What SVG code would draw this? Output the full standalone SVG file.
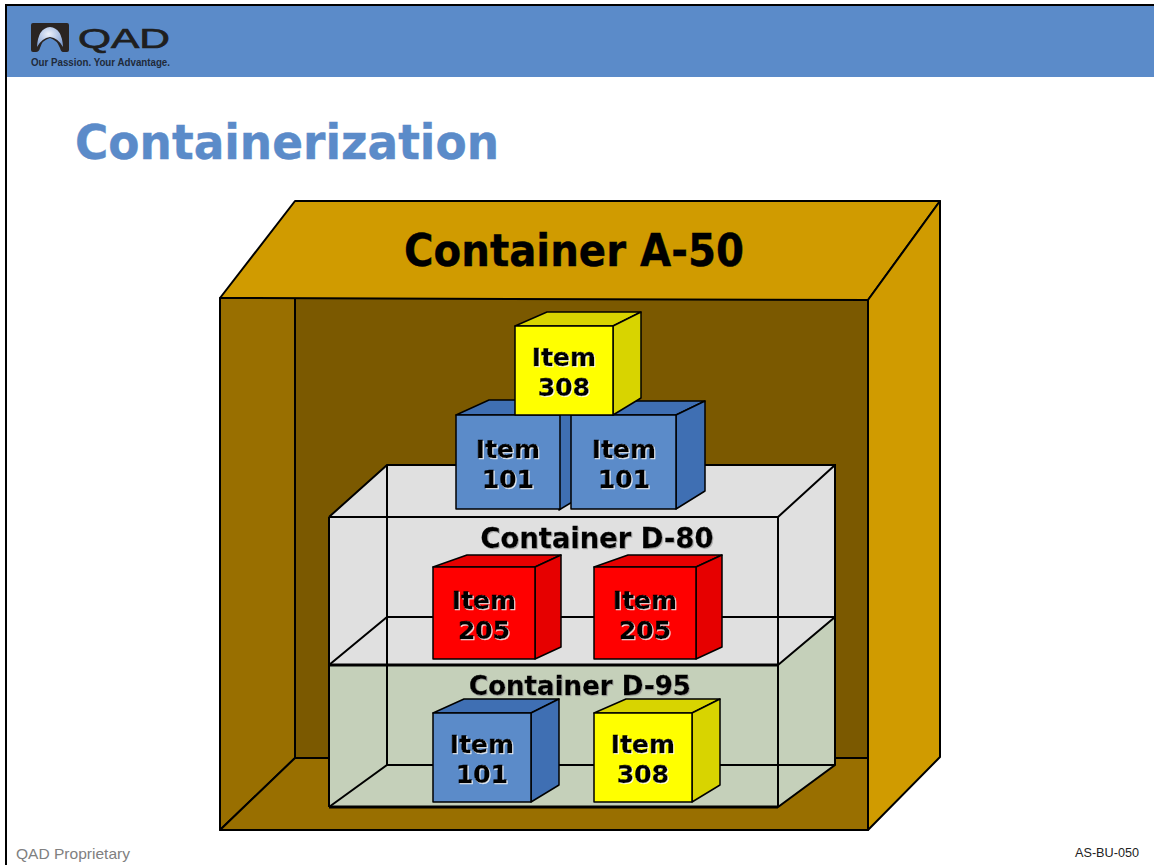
<svg xmlns="http://www.w3.org/2000/svg" width="1154" height="865" viewBox="0 0 1154 865">
<style>
text{font-family:"DejaVu Sans",Tahoma,sans-serif}
.o{stroke:#000;stroke-width:2;stroke-linejoin:round}
.c{stroke:#000;stroke-width:1.5;stroke-linejoin:round}
.l{stroke:#000;stroke-width:2;fill:none}
.i{font-weight:700;font-size:25px;text-anchor:middle;fill:#000;stroke:#000;stroke-width:.4;filter:url(#sh)}
.h{font-weight:700;text-anchor:middle;fill:#000;stroke:#000;stroke-width:.3;filter:url(#shg)}
.bf{fill:#5b8bc9}.bs{fill:#3f6fb3}
.yf{fill:#ffff00}.ys{fill:#d8d400}
.rf{fill:#ff0000}.rs{fill:#e60000}
.gold{fill:#d09b00}.mid{fill:#996f00}
</style>
<defs>
<filter id="sh" x="-10%" y="-10%" width="120%" height="120%">
<feDropShadow dx="1" dy="1" stdDeviation="0.3" flood-color="#fff" flood-opacity=".85"/>
</filter>
<filter id="shg" x="-5%" y="-10%" width="110%" height="120%">
<feDropShadow dx="1" dy="1" stdDeviation="0.3" flood-color="#999" flood-opacity=".7"/>
</filter>
<radialGradient id="glow" cx=".45" cy=".35" r=".7">
<stop offset="0" stop-color="#eef2fb"/><stop offset="1" stop-color="#7f9fd4"/>
</radialGradient>
</defs>
<rect width="1154" height="865" fill="#fff"/>
<rect x="7" y="6" width="1147" height="71" fill="#5b8bc9"/>
<path d="M6 865V5H1154" fill="none" stroke="#000" stroke-width="2"/>
<g id="logo">
<path d="M31 25Q31 23 33 23H67Q69 23 69 25V50Q69 52 67 52H63Q61 52 60 48Q57 40 50 38Q42 40 40 48Q39 52 36 52H33Q31 52 31 50Z" fill="#2a2422"/>
<path d="M37 47Q38 28 50 27Q62 28 63 47Q58 38 50 37Q42 38 37 47Z" fill="url(#glow)"/>
<text x="78" y="48" font-size="27" font-weight="400" stroke="#1f1f1f" stroke-width=".7" style="font-family:'Liberation Sans',sans-serif" fill="#1f1f1f" textLength="92" lengthAdjust="spacingAndGlyphs">QAD</text>
<text x="31" y="66" font-size="10.5" font-weight="700" style="font-family:'Liberation Sans',sans-serif" fill="#1f2a3a" textLength="139" lengthAdjust="spacingAndGlyphs">Our Passion. Your Advantage.</text>
</g>
<text id="title" x="75" y="159" font-size="48" font-weight="700" fill="#5b8bc9" stroke="#5b8bc9" stroke-width=".4" textLength="424" lengthAdjust="spacingAndGlyphs">Containerization</text>
<g id="container-a50">
<polygon points="295,298 868,298 868,758 295,758" fill="#7b5900"/>
<polygon points="220,298 295,298 295,758 220,830" class="o mid"/>
<polygon points="295,758 868,758 868,830 220,830" class="o mid"/>
<polygon points="220,298 295,201 940,201 868,300" class="o gold"/>
<polygon points="868,300 940,201 940,757 868,830" class="o gold"/>
<text x="574" y="266" font-size="44" font-weight="700" text-anchor="middle" stroke="#000" stroke-width=".4" textLength="340" lengthAdjust="spacingAndGlyphs">Container A-50</text>
</g>
<g id="container-d-frames">
<polygon points="329,517 387,465 835,465 835,617 778,665 329,665" fill="#e0e0e0"/>
<polygon points="329,665 778,665 835,617 835,765 778,807 329,807" fill="#c5d0ba"/>
<path class="l" d="M329 517L387 465H835V617L778 665M835 465L778 517M329 517H778V665M387 465V765M329 665L387 617H835M329 517V807M329 665H778V807M835 617V765L778 807H329M329 807L387 765H835"/>
<path d="M329 665H778M329 807H778" stroke="#000" stroke-width="3" fill="none"/>
</g>
<g id="item-101-left">
<polygon points="456,415 489,400 589,400 559,415" class="c bs"/>
<polygon points="559,415 589,400 589,492 559,510" class="c bs"/>
<rect x="456" y="415" width="104" height="94" class="c bf"/>
<text class="i" x="508" y="458">Item</text><text class="i" x="508" y="488">101</text>
</g>
<g id="item-101-right">
<polygon points="571,415 603,401 705,401 676,415" class="c bs"/>
<polygon points="676,415 705,401 705,491 676,509" class="c bs"/>
<rect x="571" y="415" width="105" height="94" class="c bf"/>
<text class="i" x="624" y="458">Item</text><text class="i" x="624" y="488">101</text>
</g>
<g id="item-308-top">
<polygon points="515,326 547,312 641,312 613,326" class="c ys"/>
<polygon points="613,326 641,312 641,398 613,415" class="c ys"/>
<rect x="515" y="326" width="98" height="89" class="c yf"/>
<text class="i" x="564" y="366">Item</text><text class="i" x="564" y="396">308</text>
</g>
<g id="item-205-left">
<polygon points="433,567 467,555 561,555 535,567" class="c rs"/>
<polygon points="535,567 561,555 561,647 535,659" class="c rs"/>
<rect x="433" y="567" width="102" height="92" class="c rf"/>
<text class="i" x="484" y="609">Item</text><text class="i" x="484" y="639">205</text>
</g>
<g id="item-205-right">
<polygon points="594,567 628,555 722,555 696,567" class="c rs"/>
<polygon points="696,567 722,555 722,647 696,659" class="c rs"/>
<rect x="594" y="567" width="102" height="92" class="c rf"/>
<text class="i" x="645" y="609">Item</text><text class="i" x="645" y="639">205</text>
</g>
<g id="item-101-lower">
<polygon points="433,713 464,699 559,699 531,713" class="c bs"/>
<polygon points="531,713 559,699 559,785 531,802" class="c bs"/>
<rect x="433" y="713" width="98" height="89" class="c bf"/>
<text class="i" x="482" y="753">Item</text><text class="i" x="482" y="783">101</text>
</g>
<g id="item-308-lower">
<polygon points="594,713 626,699 720,699 692,713" class="c ys"/>
<polygon points="692,713 720,699 720,785 692,802" class="c ys"/>
<rect x="594" y="713" width="98" height="89" class="c yf"/>
<text class="i" x="643" y="753">Item</text><text class="i" x="643" y="783">308</text>
</g>
<text class="h" x="597" y="548" font-size="29" textLength="233" lengthAdjust="spacingAndGlyphs">Container D-80</text>
<text class="h" x="580" y="695" font-size="27" textLength="222" lengthAdjust="spacingAndGlyphs">Container D-95</text>
<text x="16" y="859" font-size="15" fill="#808080" textLength="114" lengthAdjust="spacingAndGlyphs" style="font-family:'Liberation Sans',Tahoma,sans-serif">QAD Proprietary</text>
<text x="1075" y="857" font-size="12" fill="#222" textLength="64" lengthAdjust="spacingAndGlyphs" style="font-family:'Liberation Sans',Arial,sans-serif">AS-BU-050</text>
</svg>
